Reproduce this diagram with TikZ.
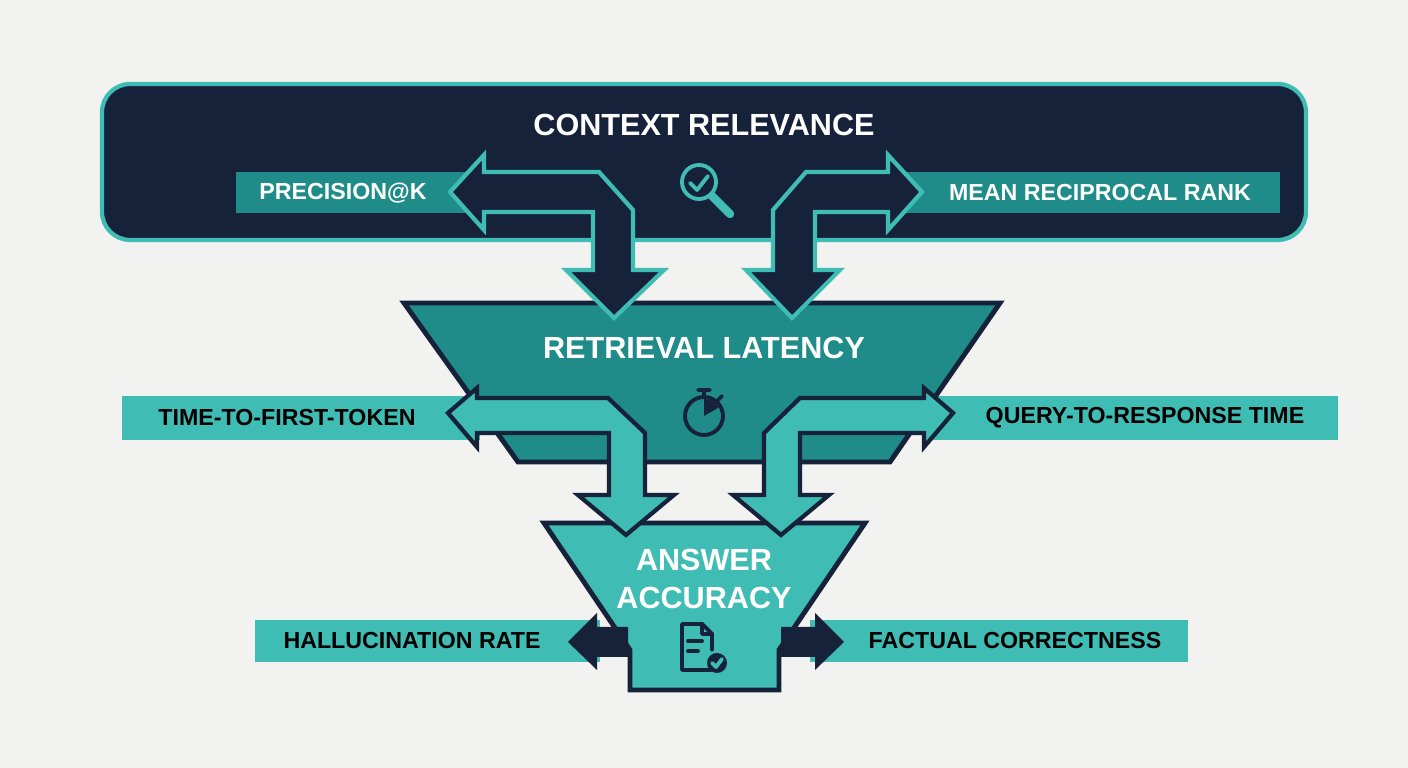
\documentclass[tikz,border=0pt]{standalone}
\usepackage{fontspec}
\setmainfont{Liberation Sans}
\definecolor{navy}{HTML}{16213A}
\definecolor{midteal}{HTML}{1F8C8A}
\definecolor{liteteal}{HTML}{3FBDB4}
\definecolor{paper}{HTML}{F2F2F1}
\tikzset{
  title/.style={text=white, font=\fontsize{8.7}{10}\selectfont\bfseries, inner sep=0pt, align=center},
  lbl/.style={font=\fontsize{6.6}{8}\selectfont\bfseries, inner sep=0pt},
  darkarrow/.style={fill=navy, draw=liteteal, line width=1.2pt, line join=miter},
  litearrow/.style={fill=liteteal, draw=navy, line width=1.2pt, line join=miter},
  icon/.style={line width=1.1pt, line cap=round, line join=round}
}
\begin{document}
\begin{tikzpicture}[
  x=0.01cm, y=-0.01cm
]
\fill [paper] (0,0) rectangle (1408,768);
\useasboundingbox (0,0) rectangle (1408,768);

% top level
\draw [fill=navy, draw=liteteal, line width=1.2pt, rounded corners=8] (102,84) rectangle (1306,240);
\node [title] (ctx) at (704,125) {CONTEXT RELEVANCE};
\fill [midteal] (236,172) rectangle (470,213);
\fill [midteal] (900,172) rectangle (1280,213);
\node [lbl, text=white] (prec) at (343,193) {PRECISION@K};
\node [lbl, text=white] (mrr) at (1100,193) {MEAN RECIPROCAL RANK};
\draw [liteteal, icon] (699,182) circle (17);
\draw [liteteal, icon, line width=2.4pt] (712,196) -- (730,214);
\draw [liteteal, icon] (690,183) -- (697,190) -- (708,176);

% middle level
\fill [liteteal] (122,396) rectangle (480,440);
\fill [liteteal] (930,396) rectangle (1338,440);
\draw [fill=midteal, draw=navy, line width=1.4pt, line join=miter] (404,303) -- (1000,303) -- (890,462) -- (518,462) -- cycle;
\node [title] (ret) at (704,348) {RETRIEVAL LATENCY};
\node [lbl] (ttft) at (287,418) {TIME-TO-FIRST-TOKEN};
\node [lbl] (qrt) at (1145,418) {QUERY-TO-RESPONSE TIME};
\draw [navy, icon] (704,416) circle (19);
\draw [navy, icon] (704,397) -- (704,391) (698,390) -- (710,390) (718,400) -- (722,396);
\fill [navy] (704,416) -- (704,399) arc [start angle=-90, end angle=-30, radius=17] -- cycle;

\draw [darkarrow] (450,192) -- (484,155) -- (484,172) -- (599,172) -- (633,210) -- (633,270) -- (664,270)
  -- (614,318) -- (566,270) -- (593,270) -- (593,212) -- (484,212) -- (484,230) -- cycle;
\draw [darkarrow] (922,192) -- (888,155) -- (888,172) -- (806,172) -- (773,210) -- (773,270) -- (746,270)
  -- (792,318) -- (840,270) -- (815,270) -- (815,212) -- (888,212) -- (888,230) -- cycle;

% bottom level
\fill [liteteal] (255,620) rectangle (600,662);
\fill [liteteal] (810,620) rectangle (1188,662);
\draw [fill=liteteal, draw=navy, line width=1.4pt, line join=miter] (544,523) -- (865,523) -- (779,650) -- (779,690) -- (630,690) -- (630,650) -- cycle;
\node [title, font=\fontsize{8.7}{10.6}\selectfont\bfseries] (ans) at (704,579) {ANSWER\\ACCURACY};
\node [lbl] (hall) at (412,641) {HALLUCINATION RATE};
\node [lbl] (fact) at (1015,641) {FACTUAL CORRECTNESS};
\fill [navy] (568,642) -- (597,613) -- (597,627) -- (628,627) -- (628,657) -- (597,657) -- (597,670) -- cycle;
\fill [navy] (844,642) -- (815,613) -- (815,627) -- (781,627) -- (781,657) -- (815,657) -- (815,670) -- cycle;
\draw [navy, icon] (712,670) -- (682,670) -- (682,624) -- (702,624) -- (712,634) -- (712,650);
\draw [navy, icon] (702,624) -- (702,634) -- (712,634);
\draw [navy, icon] (688,641) -- (702,641) (688,651) -- (698,651);
\fill [navy] (717,663) circle (10);
\draw [liteteal, icon] (712,663) -- (716,667) -- (722,659);

\draw [litearrow] (448,413) -- (477,388) -- (477,398) -- (608,398) -- (645,433) -- (645,495) -- (674,495)
  -- (626,535) -- (578,495) -- (609,495) -- (609,433) -- (477,433) -- (477,447) -- cycle;
\draw [litearrow] (953,413) -- (924,388) -- (924,398) -- (800,398) -- (764,433) -- (764,495) -- (733,495)
  -- (781,535) -- (829,495) -- (800,495) -- (800,433) -- (924,433) -- (924,447) -- cycle;
\end{tikzpicture}
\end{document}
